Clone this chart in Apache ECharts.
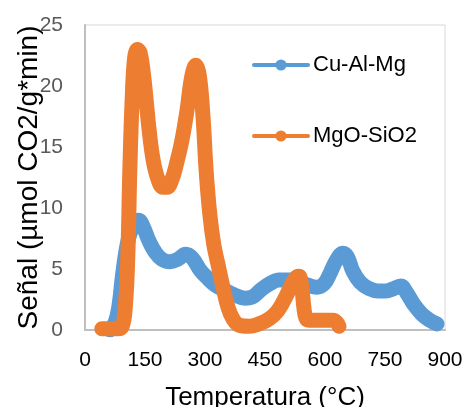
<!DOCTYPE html>
<html lang="es">
  <head>
    <meta charset="UTF-8" />
    <title>Señal vs Temperatura</title>
    <script src="https://cdn.jsdelivr.net/npm/echarts@6/dist/echarts.min.js"></script>
    <style>
      html, body { margin: 0; padding: 0; background: #fff; }
      #main { width: 466px; height: 407px; }
    </style>
  </head>
  <body>
    <div id="main"></div>
    <script>
      // [temperatura, señal]
      const cuAlMg = [
        [62, 0], [75, 0.6], [85, 2], [95, 4.8], [108, 7.4], [122, 8.6], [134, 9],
        [145, 8.5], [160, 7.3], [175, 6.4], [192, 5.8], [212, 5.6], [232, 5.8],
        [252, 6.2], [268, 5.9], [288, 4.9], [305, 4.3], [325, 3.7], [347, 3.3],
        [372, 2.9], [400, 2.6], [418, 2.7], [440, 3.3], [462, 3.8], [485, 4.1],
        [510, 4.1], [533, 4.0], [555, 3.7], [580, 3.5], [598, 3.8], [612, 4.6],
        [628, 5.7], [645, 6.3], [656, 6.0], [670, 4.8], [688, 3.9], [710, 3.4],
        [732, 3.2], [752, 3.2], [772, 3.4], [790, 3.6], [805, 3.0], [822, 2.1],
        [842, 1.3], [862, 0.8], [880, 0.5]
      ];
      const mgoSio2 = [
        [42, 0.1], [60, 0.1], [80, 0.1], [93, 0.3], [101, 2], [107, 6], [112, 13],
        [118, 19], [124, 22.3], [131, 23], [138, 22.7], [146, 21], [153, 18.8],
        [160, 16.5], [170, 14], [182, 12.4], [195, 11.7], [205, 11.7], [218, 12.4],
        [230, 13.8], [242, 15.5], [255, 18], [267, 20.8], [277, 21.7], [286, 20.8],
        [295, 17.5], [303, 13], [312, 9.5], [322, 7], [333, 5.3], [345, 3.5],
        [358, 1.8], [370, 0.9], [385, 0.4], [410, 0.3], [435, 0.5], [460, 0.9],
        [480, 1.5], [497, 2.4], [512, 3.4], [525, 4.2], [535, 4.4], [542, 3.5],
        [547, 1.9], [552, 1.0], [560, 0.8], [580, 0.8], [600, 0.8], [620, 0.8],
        [630, 0.6], [635, 0.3]
      ];
      const seriesNames = ["Cu-Al-Mg", "MgO-SiO2"];
      const colors = ["#5B9BD5", "#ED7D31"];

      const font = "Liberation Sans, Arial, sans-serif";
      const chart = echarts.init(document.getElementById("main"));

      function makeSeries(name, data, color) {
        return {
          name: name,
          type: "line",
          data: data,
          smooth: 0.4,
          symbol: "circle",
          symbolSize: 13,
          showSymbol: false,
          itemStyle: { color: color },
          lineStyle: { color: color, width: 15, cap: "round", join: "round" },
          animation: false
        };
      }

      chart.setOption({
        animation: false,
        grid: {
          left: 85, right: 21, top: 25, bottom: 77,
          containLabel: false,
          outerBoundsMode: "none",
          show: true, borderColor: "#d9d9d9", borderWidth: 1
        },
        legend: {
          orient: "vertical",
          left: 247,
          top: 49,
          itemWidth: 54,
          itemHeight: 14,
          itemGap: 49,
          lineStyle: { width: 4 },
          textStyle: { fontFamily: font, fontSize: 22, color: "#000", lineHeight: 22 },
          data: seriesNames
        },
        xAxis: {
          type: "value",
          min: 0, max: 900, interval: 150,
          name: "Temperatura (°C)",
          nameLocation: "middle",
          nameGap: 55,
          nameMoveOverlap: false,
          nameTextStyle: { fontFamily: font, fontSize: 26, color: "#000" },
          axisLine: { lineStyle: { color: "#bfbfbf", width: 2 } },
          axisTick: { show: false },
          splitLine: { show: false },
          axisLabel: { fontFamily: font, fontSize: 21, color: "#000", margin: 20 }
        },
        yAxis: {
          type: "value",
          min: 0, max: 25, interval: 5,
          name: "Señal (µmol CO2/g*min)",
          nameLocation: "middle",
          nameGap: 42,
          nameMoveOverlap: false,
          nameTextStyle: { fontFamily: font, fontSize: 28, color: "#000" },
          axisLine: { show: true, lineStyle: { color: "#bfbfbf", width: 2 } },
          axisTick: { show: false },
          splitLine: { show: false },
          axisLabel: { fontFamily: font, fontSize: 21, color: "#595959", margin: 22 }
        },
        series: [
          makeSeries(seriesNames[0], cuAlMg, colors[0]),
          makeSeries(seriesNames[1], mgoSio2, colors[1])
        ]
      });
    </script>
  </body>
</html>
